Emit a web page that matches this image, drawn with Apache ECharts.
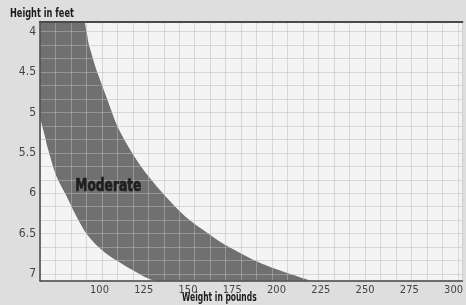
<!DOCTYPE html>
<html>
<head>
<meta charset="utf-8">
<script src="https://cdn.jsdelivr.net/npm/echarts@6/dist/echarts.min.js"></script>
<style>
  html, body { margin: 0; padding: 0; background: #dedede; }
  #chart { width: 466px; height: 305px; }
</style>
</head>
<body>
<div id="chart"></div>
<script>
// outer (upper-right) edge of the band, top to bottom
const outerWeights = [91.6, 92.9, 94.4, 99.0, 104.6, 110.3, 118.7, 128.0, 137.4, 148.6, 161.6, 172.8, 191.5, 212.0, 219.3];
const outerHeights = [3.875, 4.02, 4.19, 4.52, 4.85, 5.18, 5.51, 5.80, 6.04, 6.29, 6.50, 6.66, 6.87, 7.03, 7.08];
// inner (lower-left) edge of the band, top to bottom
const innerWeights = [66.4, 69.0, 70.9, 75.5, 81.0, 86.6, 93.3, 102.8, 114.0, 126.9, 131.4];
const innerHeights = [5.07, 5.28, 5.45, 5.78, 6.02, 6.27, 6.52, 6.73, 6.89, 7.05, 7.08];

const xTicks = [100, 125, 150, 175, 200, 225, 250, 275, 300];
const yTicks = [4, 4.5, 5, 5.5, 6, 6.5, 7];
const bandLabel = 'Moderate';

const xMin = 66.4, xMax = 305;
const yMin = 3.875, yMax = 7.08;

// paper grid rows every 2 inches
const yGrid = [];
for (let i = 0; i <= 18; i++) yGrid.push(4 + i / 6);

const outerPts = outerWeights.map((w, i) => [w, outerHeights[i]]);
const innerPts = innerWeights.map((w, i) => [w, innerHeights[i]]).reverse();

// catmull-rom through pixel points -> bezier path commands
function curveCmds(p) {
  let s = '';
  for (let i = 0; i < p.length - 1; i++) {
    const p0 = p[Math.max(i - 1, 0)], p1 = p[i], p2 = p[i + 1], p3 = p[Math.min(i + 2, p.length - 1)];
    const c1 = [p1[0] + (p2[0] - p0[0]) / 6, p1[1] + (p2[1] - p0[1]) / 6];
    const c2 = [p2[0] - (p3[0] - p1[0]) / 6, p2[1] - (p3[1] - p1[1]) / 6];
    s += ' C' + c1[0] + ',' + c1[1] + ' ' + c2[0] + ',' + c2[1] + ' ' + p2[0] + ',' + p2[1];
  }
  return s;
}

const font = '"Liberation Sans Narrow", "DejaVu Sans Condensed", sans-serif';
const gridLine = { color: 'rgba(185,185,185,0.5)', width: 1 };

let myChart = echarts.init(document.querySelector('#chart'));

let option = {
  backgroundColor: '#dedede',
  animation: false,
  grid: {
    left: 40,
    right: 0,
    top: 21.5,
    bottom: 24.5,
    show: true,
    backgroundColor: '#f4f4f4',
    borderWidth: 0
  },
  xAxis: [
    {
      type: 'value',
      min: xMin,
      max: xMax,
      z: 10,
      axisLine: { show: true, lineStyle: { color: '#444', width: 1.5 } },
      axisTick: { show: false },
      splitLine: { show: false },
      axisLabel: {
        customValues: xTicks,
        margin: 4,
        color: '#444',
        fontFamily: font,
        fontSize: 11
      }
    },
    {
      // paper grid columns + top border
      type: 'value',
      position: 'top',
      min: 0,
      max: 27.3,
      interval: 1,
      z: 10,
      axisLine: { show: true, lineStyle: { color: '#4a4a4a', width: 2 } },
      axisTick: { show: false },
      axisLabel: { show: false },
      splitLine: { show: true, lineStyle: gridLine }
    }
  ],
  yAxis: {
    type: 'value',
    inverse: true,
    min: yMin,
    max: yMax,
    z: 10,
    axisLine: { show: true, lineStyle: { color: '#444', width: 1.5 } },
    axisTick: { show: false, customValues: yGrid },
    splitLine: { show: true, lineStyle: gridLine },
    axisLabel: {
      customValues: yTicks,
      margin: 4,
      color: '#444',
      fontFamily: font,
      fontSize: 12
    }
  },
  graphic: [
    {
      type: 'text', left: 10, top: 8, scaleX: 0.76,
      style: { text: 'Height in feet', fill: '#1a1a1a', font: 'bold 12px ' + font }
    },
    {
      type: 'text', left: 182, top: 292, scaleX: 0.7,
      style: { text: 'Weight in pounds', fill: '#1a1a1a', font: 'bold 12px ' + font }
    },
    {
      type: 'text', left: 75, top: 178, z: 20, scaleX: 0.8,
      style: { text: bandLabel, fill: '#1e1e1e', font: 'bold 17px ' + font, stroke: '#1e1e1e', lineWidth: 0.6 }
    }
  ],
  series: [
    {
      type: 'custom',
      name: bandLabel,
      data: [0],
      z: 2,
      renderItem: function (params, api) {
        const corner = api.coord([xMin, yMin]);
        const outer = outerPts.map(p => api.coord(p));
        const inner = innerPts.map(p => api.coord(p));
        let d = 'M' + corner[0] + ',' + corner[1];
        d += ' L' + outer[0][0] + ',' + outer[0][1] + curveCmds(outer);
        d += ' L' + inner[0][0] + ',' + inner[0][1] + curveCmds(inner);
        d += ' Z';
        return {
          type: 'path',
          shape: { pathData: d },
          style: { fill: '#707070' }
        };
      }
    }
  ]
};

myChart.setOption(option);
</script>
</body>
</html>
